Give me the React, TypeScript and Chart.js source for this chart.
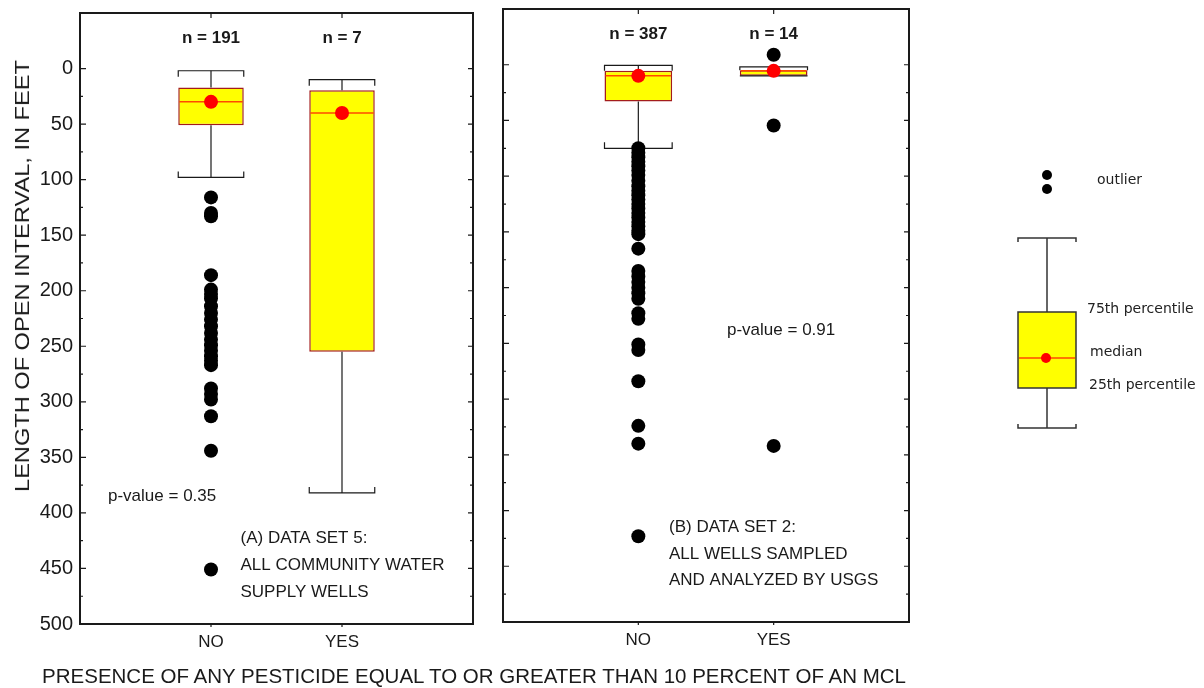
import React, { useEffect, useRef } from 'react';
import { Chart, registerables } from 'chart.js';

Chart.register(...registerables);

const FONT = "'Liberation Sans', Arial, Helvetica, sans-serif";
const LEGEND_FONT = "'DejaVu Sans', Verdana, sans-serif";

// ---------- data ----------
const CATEGORIES = ['NO', 'YES'];
const AXIS_LABELS = ['', 'NO', 'YES', ''];
const Y_MIN = -50;
const Y_MAX = 500;
const Y_TICKS = [0, 25, 50, 75, 100, 125, 150, 175, 200, 225, 250, 275, 300, 325, 350, 375, 400, 425, 450, 475, 500];

// Panel A: data set 5
const A_COUNTS = ['n = 191', 'n = 7'];
const A_LOW = [2, 10];
const A_Q1 = [17, 19.5];
const A_MEDIAN = [30, 40];
const A_Q3 = [51, 255];
const A_HIGH = [98, 382];
const A_OUTLIERS_NO = [116, 130, 133, 186, 199, 203, 207, 214, 220, 226, 232, 238, 244, 249, 254, 259, 263, 267, 288, 293, 298, 313, 344, 451];
const A_OUTLIERS_YES: number[] = [];

// Panel B: data set 2
const B_COUNTS = ['n = 387', 'n = 14'];
const B_LOW = [0.5, 2];
const B_Q1 = [5.5, 5];
const B_MEDIAN = [10, 5.5];
const B_Q3 = [33, 10];
const B_HIGH = [75, 10];
const B_OUTLIERS_NO = [75, 79, 83, 87, 91, 95, 99, 104, 109, 113, 117, 121, 125, 129, 133, 137, 141, 145, 149, 152, 165, 185, 190, 195, 200, 205, 210, 223, 228, 251, 256, 284, 324, 340, 423];
const B_OUTLIERS_YES = [-9, 54.5, 342];

const COUNT_LABEL_VALUE = -27.5;

// ---------- layout / styles ----------
const A_NOTES = [
  { text: 'p-value = 0.35', x: 108, y: 496 },
  { text: '(A) DATA SET 5:', x: 240.5, y: 538 },
  { text: 'ALL COMMUNITY WATER', x: 240.5, y: 565 },
  { text: 'SUPPLY WELLS', x: 240.5, y: 592 },
];
const B_NOTES = [
  { text: 'p-value = 0.91', x: 727, y: 330 },
  { text: '(B) DATA SET 2:', x: 669, y: 527 },
  { text: 'ALL WELLS SAMPLED', x: 669, y: 554 },
  { text: 'AND ANALYZED BY USGS', x: 669, y: 580 },
];

const BOX_FILL = '#ffff00';
const BOX_BORDER = '#a31c1c';
const MEDIAN_LINE = '#ff4a00';
const MEDIAN_DOT = '#ff0000';
const INK = '#1a1a1a';

const panelPlugin = {
  id: 'panelPlugin',
  afterDatasetDraw(chart: any, args: any, opts: any) {
    if (!opts || !opts.panel || args.meta.type !== 'bar') return;
    const p = opts.panel;
    const { ctx } = chart;
    const xs = chart.scales.x;
    const ys = chart.scales.y;
    ctx.save();
    p.q1.forEach((_: number, i: number) => {
      const idx = i + 1;
      const el = args.meta.data[idx];
      const cx = xs.getPixelForValue(idx);
      const half = el && el.width ? el.width / 2 : 32;
      const yLow = ys.getPixelForValue(p.low[i]);
      const yQ1 = ys.getPixelForValue(p.q1[i]);
      const yQ3 = ys.getPixelForValue(p.q3[i]);
      const yHigh = ys.getPixelForValue(p.high[i]);
      const yMed = ys.getPixelForValue(p.median[i]);
      const line = (x1: number, y1: number, x2: number, y2: number) => {
        ctx.beginPath();
        ctx.moveTo(x1, y1);
        ctx.lineTo(x2, y2);
        ctx.stroke();
      };
      const cap = (yc: number, yBox: number) => {
        const dir = Math.sign(yBox - yc) || 1;
        const len = Math.min(6, Math.abs(yBox - yc));
        ctx.beginPath();
        ctx.moveTo(cx - half, yc + dir * len);
        ctx.lineTo(cx - half, yc);
        ctx.lineTo(cx + half, yc);
        ctx.lineTo(cx + half, yc + dir * len);
        ctx.stroke();
      };
      ctx.strokeStyle = INK;
      ctx.lineWidth = 1.2;
      line(cx, yLow, cx, yQ1);
      line(cx, yQ3, cx, yHigh);
      cap(yLow, yQ1);
      cap(yHigh, yQ3);
      ctx.strokeStyle = MEDIAN_LINE;
      ctx.lineWidth = 1.5;
      line(cx - half + 1, yMed, cx + half - 1, yMed);
    });
    ctx.restore();
  },
  afterDraw(chart: any, _args: any, opts: any) {
    if (!opts || !opts.panel) return;
    const p = opts.panel;
    const { ctx, chartArea: a } = chart;
    const xs = chart.scales.x;
    const ys = chart.scales.y;
    ctx.save();
    // frame
    ctx.strokeStyle = INK;
    ctx.lineWidth = 2;
    ctx.strokeRect(a.left, a.top, a.right - a.left, a.bottom - a.top);
    // y ticks (inside, both sides)
    ctx.lineWidth = 1.2;
    Y_TICKS.forEach((v) => {
      const y = ys.getPixelForValue(v);
      const major = v % 50 === 0;
      ctx.beginPath();
      ctx.moveTo(a.left, y);
      ctx.lineTo(a.left + (major ? 6 : 3), y);
      ctx.moveTo(a.right, y);
      ctx.lineTo(a.right - (major ? 5 : 3), y);
      ctx.stroke();
    });
    // category ticks
    CATEGORIES.forEach((_, i) => {
      const x = xs.getPixelForValue(i + 1);
      ctx.beginPath();
      ctx.moveTo(x, a.top);
      ctx.lineTo(x, a.top + 5);
      ctx.moveTo(x, a.bottom);
      ctx.lineTo(x, a.bottom + 3);
      ctx.stroke();
    });
    // counts
    ctx.fillStyle = INK;
    ctx.textAlign = 'center';
    ctx.textBaseline = 'middle';
    ctx.font = `bold 17px ${FONT}`;
    p.counts.forEach((t: string, i: number) => {
      ctx.fillText(t, xs.getPixelForValue(i + 1), ys.getPixelForValue(COUNT_LABEL_VALUE));
    });
    // notes
    ctx.textAlign = 'left';
    ctx.font = `17px ${FONT}`;
    p.notes.forEach((n: any) => {
      ctx.fillText(n.text, n.x - p.offset, n.y);
    });
    // legend key
    if (p.legend) {
      const L = p.legend;
      const ox = p.offset;
      const cx = L.cx - ox;
      ctx.fillStyle = '#000';
      L.outlierDots.forEach((y: number) => {
        ctx.beginPath();
        ctx.arc(cx, y, 5, 0, Math.PI * 2);
        ctx.fill();
      });
      ctx.strokeStyle = '#333';
      ctx.lineWidth = 1.5;
      const seg = (x1: number, y1: number, x2: number, y2: number) => {
        ctx.beginPath();
        ctx.moveTo(x1, y1);
        ctx.lineTo(x2, y2);
        ctx.stroke();
      };
      seg(cx, L.capTop, cx, L.boxTop);
      seg(cx, L.boxBottom, cx, L.capBottom);
      ctx.beginPath();
      ctx.moveTo(cx - L.half, L.capTop + 4);
      ctx.lineTo(cx - L.half, L.capTop);
      ctx.lineTo(cx + L.half, L.capTop);
      ctx.lineTo(cx + L.half, L.capTop + 4);
      ctx.stroke();
      ctx.beginPath();
      ctx.moveTo(cx - L.half, L.capBottom - 4);
      ctx.lineTo(cx - L.half, L.capBottom);
      ctx.lineTo(cx + L.half, L.capBottom);
      ctx.lineTo(cx + L.half, L.capBottom - 4);
      ctx.stroke();
      ctx.fillStyle = BOX_FILL;
      ctx.fillRect(cx - L.half, L.boxTop, L.half * 2, L.boxBottom - L.boxTop);
      ctx.strokeRect(cx - L.half, L.boxTop, L.half * 2, L.boxBottom - L.boxTop);
      ctx.strokeStyle = MEDIAN_LINE;
      seg(cx - L.half + 1, L.median, cx + L.half - 1, L.median);
      ctx.fillStyle = MEDIAN_DOT;
      ctx.beginPath();
      ctx.arc(cx - 1, L.median, 5, 0, Math.PI * 2);
      ctx.fill();
      ctx.fillStyle = '#222';
      ctx.font = `14px ${LEGEND_FONT}`;
      ctx.textAlign = 'left';
      L.texts.forEach((t: any) => ctx.fillText(t.text, t.x - ox, t.y));
    }
    ctx.restore();
  },
};

const LEGEND_KEY = {
  cx: 1047,
  half: 29,
  outlierDots: [175, 189],
  capTop: 238,
  boxTop: 312,
  median: 358,
  boxBottom: 388,
  capBottom: 428,
  texts: [
    { text: 'outlier', x: 1097, y: 180 },
    { text: '75th percentile', x: 1087, y: 309 },
    { text: 'median', x: 1090, y: 352 },
    { text: '25th percentile', x: 1089, y: 385 },
  ],
};

function buildConfig(panel: any, showY: boolean, padding: any) {
  const boxes = [null, ...panel.q1.map((q: number, i: number) => [q, panel.q3[i]]), null];
  const outliers = [
    ...panel.outNo.map((v: number) => ({ x: 'NO', y: v })),
    ...panel.outYes.map((v: number) => ({ x: 'YES', y: v })),
  ];
  const medians = panel.median.map((v: number, i: number) => ({ x: CATEGORIES[i], y: v }));
  return {
    type: 'bar',
    data: {
      labels: AXIS_LABELS,
      datasets: [
        {
          type: 'bar',
          data: boxes,
          backgroundColor: BOX_FILL,
          borderColor: BOX_BORDER,
          borderWidth: 1.5,
          borderSkipped: false,
          categoryPercentage: 1,
          barPercentage: 0.5,
          order: 10,
        },
        {
          type: 'scatter',
          data: outliers,
          pointRadius: 7,
          pointHoverRadius: 7,
          pointBackgroundColor: '#000',
          pointBorderWidth: 0,
          order: 5,
        },
        {
          type: 'scatter',
          data: medians,
          pointRadius: 7,
          pointHoverRadius: 7,
          pointBackgroundColor: MEDIAN_DOT,
          pointBorderWidth: 0,
          order: 1,
        },
      ],
    },
    options: {
      animation: false,
      responsive: false,
      maintainAspectRatio: false,
      events: [],
      layout: { padding },
      plugins: {
        legend: { display: false },
        tooltip: { enabled: false },
        panelPlugin: { panel },
      },
      scales: {
        x: {
          type: 'category',
          offset: false,
          grid: { display: false, drawTicks: false },
          border: { display: false },
          ticks: {
            autoSkip: false,
            maxRotation: 0,
            padding: 8,
            color: INK,
            font: { family: FONT, size: 17 },
          },
          afterFit: (s: any) => {
            s.height = 40;
            s.paddingLeft = 0;
            s.paddingRight = 0;
          },
        },
        y: {
          type: 'linear',
          display: showY,
          min: Y_MIN,
          max: Y_MAX,
          reverse: true,
          grid: { display: false, drawTicks: false },
          border: { display: false },
          ticks: {
            stepSize: 50,
            padding: 7,
            color: INK,
            font: { family: FONT, size: 20 },
          },
          afterBuildTicks: (s: any) => {
            s.ticks = s.ticks.filter((t: any) => t.value >= 0);
          },
          afterFit: (s: any) => {
            if (showY) s.width = 80;
            s.paddingTop = 0;
            s.paddingBottom = 0;
          },
        },
      },
    },
    plugins: [panelPlugin],
  };
}

const PANEL_A = {
  counts: A_COUNTS,
  low: A_LOW,
  q1: A_Q1,
  median: A_MEDIAN,
  q3: A_Q3,
  high: A_HIGH,
  outNo: A_OUTLIERS_NO,
  outYes: A_OUTLIERS_YES,
  notes: A_NOTES,
  offset: 0,
  legend: null,
};

const PANEL_B = {
  counts: B_COUNTS,
  low: B_LOW,
  q1: B_Q1,
  median: B_MEDIAN,
  q3: B_Q3,
  high: B_HIGH,
  outNo: B_OUTLIERS_NO,
  outYes: B_OUTLIERS_YES,
  notes: B_NOTES,
  offset: 490,
  legend: LEGEND_KEY,
};

export default function App() {
  const refA = useRef<HTMLCanvasElement | null>(null);
  const refB = useRef<HTMLCanvasElement | null>(null);

  useEffect(() => {
    const a = new Chart(refA.current as any, buildConfig(PANEL_A, true, { left: 0, top: 13, right: 17, bottom: 24 }) as any);
    const b = new Chart(refB.current as any, buildConfig(PANEL_B, false, { left: 13, top: 9, right: 295, bottom: 26 }) as any);
    return () => {
      a.destroy();
      b.destroy();
    };
  }, []);

  return (
    <div style={{ position: 'fixed', left: 0, top: 0, width: 1204, height: 688, background: '#fff', overflow: 'hidden' }}>
      <canvas ref={refA} width={490} height={688} style={{ position: 'absolute', left: 0, top: 0, width: 490, height: 688 }} />
      <canvas ref={refB} width={714} height={688} style={{ position: 'absolute', left: 490, top: 0, width: 714, height: 688 }} />
      <div
        style={{
          position: 'absolute',
          left: 22,
          top: 276,
          transform: 'translate(-50%, -50%) rotate(-90deg) scaleX(1.18)',
          whiteSpace: 'nowrap',
          fontFamily: FONT,
          fontSize: 20,
          color: INK,
          lineHeight: 1,
        }}
      >
        LENGTH OF OPEN INTERVAL, IN FEET
      </div>
      <div
        style={{
          position: 'absolute',
          left: 474,
          top: 676,
          transform: 'translate(-50%, -50%)',
          whiteSpace: 'nowrap',
          fontFamily: FONT,
          fontSize: 20.5,
          color: INK,
          lineHeight: 1,
        }}
      >
        PRESENCE OF ANY PESTICIDE EQUAL TO OR GREATER THAN 10 PERCENT OF AN MCL
      </div>
    </div>
  );
}
